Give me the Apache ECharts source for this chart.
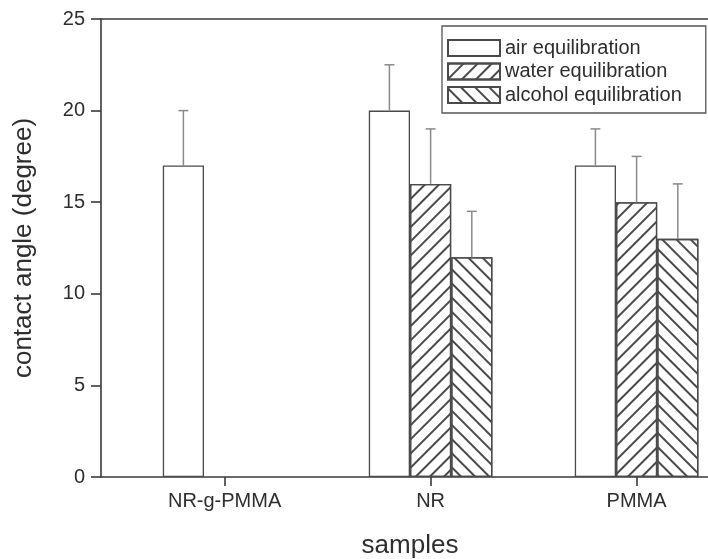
<!DOCTYPE html>
<html><head><meta charset="utf-8">
<script src="https://cdn.jsdelivr.net/npm/echarts@6/dist/echarts.min.js"></script>
<style>html,body{margin:0;padding:0;background:#fff}#c{width:708px;height:559px}</style>
</head><body><div id="c"></div>
<script>
const categories = ['NR-g-PMMA', 'NR', 'PMMA'];
const seriesNames = ['air equilibration', 'water equilibration', 'alcohol equilibration'];
const airValues = [17, 20, 17];
const airErrors = [3, 2.5, 2];
const waterValues = [null, 16, 15];
const waterErrors = [null, 3, 2.5];
const alcoholValues = [null, 12, 13];
const alcoholErrors = [null, 2.5, 3];
const yTickValues = [0, 5, 10, 15, 20, 25];
const xPositions = categories.map((c, i) => i + 1);

const BAR_FRAC = 0.2;
const FONT = '"Liberation Sans", Arial, sans-serif';
const TEXT = '#2e2e2e';
const AXIS = '#3a3a3a';
const EDGE = '#4a4a4a';
const ERR = '#8a8a8a';

function toPairs(vals) {
  const out = [];
  vals.forEach((v, i) => { if (v != null) out.push([xPositions[i], v]); });
  return out;
}
function toErr(vals, errs) {
  const out = [];
  vals.forEach((v, i) => { if (v != null) out.push([xPositions[i], v, errs[i]]); });
  return out;
}
function errRenderer(slot) {
  return function (params, api) {
    const x = api.value(0), y = api.value(1), e = api.value(2);
    const bw = api.size([BAR_FRAC, 0])[0];
    const base = api.coord([x, y]);
    const top = api.coord([x, y + e]);
    const cx = base[0] + (slot - 1) * bw;
    const st = { stroke: ERR, lineWidth: 1.5 };
    return { type: 'group', children: [
      { type: 'line', shape: { x1: cx, y1: base[1], x2: cx, y2: top[1] }, style: st },
      { type: 'line', shape: { x1: cx - 5, y1: top[1], x2: cx + 5, y2: top[1] }, style: st }
    ]};
  };
}
function decal(rot) {
  return { symbol: 'rect', symbolSize: 1, dashArrayX: [1, 0], dashArrayY: [1.2, 8],
           rotation: rot, color: '#4a4a4a', backgroundColor: 'rgba(0,0,0,0)' };
}
const barBase = { type: 'bar', barWidth: (BAR_FRAC * 100) + '%', barGap: '0%', z: 2 };

const chart = echarts.init(document.getElementById('c'), null, { renderer: 'canvas' });
chart.setOption({
  animation: false,
  backgroundColor: '#fff',
  textStyle: { fontFamily: FONT, color: TEXT },
  grid: { left: 101, top: 19, right: -11, bottom: 82, containLabel: false, outerBoundsMode: 'none' },
  legend: {
    data: seriesNames.map(n => ({ name: n, icon: 'rect' })),
    orient: 'vertical', left: 442, top: 26,
    padding: [12, 24, 8, 5],
    itemWidth: 52, itemHeight: 16, itemGap: 3.5,
    borderColor: '#555', borderWidth: 1.3, borderRadius: 0,
    backgroundColor: '#fff',
    textStyle: { fontFamily: FONT, fontSize: 20, color: TEXT },
    selectedMode: false
  },
  xAxis: [{
    type: 'value', min: 0.4, max: 3.4, position: 'bottom',
    name: 'samples', nameLocation: 'middle', nameGap: 56,
    nameTextStyle: { fontFamily: FONT, fontSize: 26, color: TEXT },
    axisLine: { show: true, onZero: false, lineStyle: { color: AXIS, width: 1.6 } },
    axisTick: { show: true, inside: false, length: 9, customValues: xPositions, lineStyle: { color: AXIS, width: 1.6 } },
    axisLabel: { show: true, customValues: xPositions, margin: 14, fontFamily: FONT, fontSize: 20, color: TEXT,
                 formatter: v => categories[Math.round(v) - 1] || '' },
    splitLine: { show: false }
  }, {
    type: 'value', min: 0.4, max: 3.4, position: 'top',
    axisLine: { show: true, onZero: false, lineStyle: { color: AXIS, width: 1.6 } },
    axisTick: { show: false }, axisLabel: { show: false }, splitLine: { show: false }
  }],
  yAxis: {
    type: 'value', min: 0, max: 25, interval: 5,
    name: 'contact angle (degree)', nameLocation: 'middle', nameGap: 64, nameRotate: 90,
    nameTextStyle: { fontFamily: FONT, fontSize: 26, color: TEXT },
    axisLine: { show: true, onZero: false, lineStyle: { color: AXIS, width: 1.6 } },
    axisTick: { show: true, inside: false, length: 10, lineStyle: { color: AXIS, width: 1.6 } },
    axisLabel: { margin: 16, fontFamily: FONT, fontSize: 20, color: TEXT,
                 formatter: v => (yTickValues.indexOf(v) >= 0 ? String(v) : '') },
    splitLine: { show: false }
  },
  series: [
    Object.assign({}, barBase, { name: seriesNames[0], data: toPairs(airValues),
      itemStyle: { color: '#fff', borderColor: EDGE, borderWidth: 1.3 } }),
    Object.assign({}, barBase, { name: seriesNames[1], data: toPairs(waterValues),
      itemStyle: { color: '#fff', borderColor: EDGE, borderWidth: 1.3, decal: decal(-Math.PI / 4) } }),
    Object.assign({}, barBase, { name: seriesNames[2], data: toPairs(alcoholValues),
      itemStyle: { color: '#fff', borderColor: EDGE, borderWidth: 1.3, decal: decal(Math.PI / 4) } }),
    { type: 'custom', name: 'err0', renderItem: errRenderer(0), data: toErr(airValues, airErrors), encode: { x: 0, y: 1 }, z: 3 },
    { type: 'custom', name: 'err1', renderItem: errRenderer(1), data: toErr(waterValues, waterErrors), encode: { x: 0, y: 1 }, z: 3 },
    { type: 'custom', name: 'err2', renderItem: errRenderer(2), data: toErr(alcoholValues, alcoholErrors), encode: { x: 0, y: 1 }, z: 3 }
  ]
});
</script>
</body></html>
